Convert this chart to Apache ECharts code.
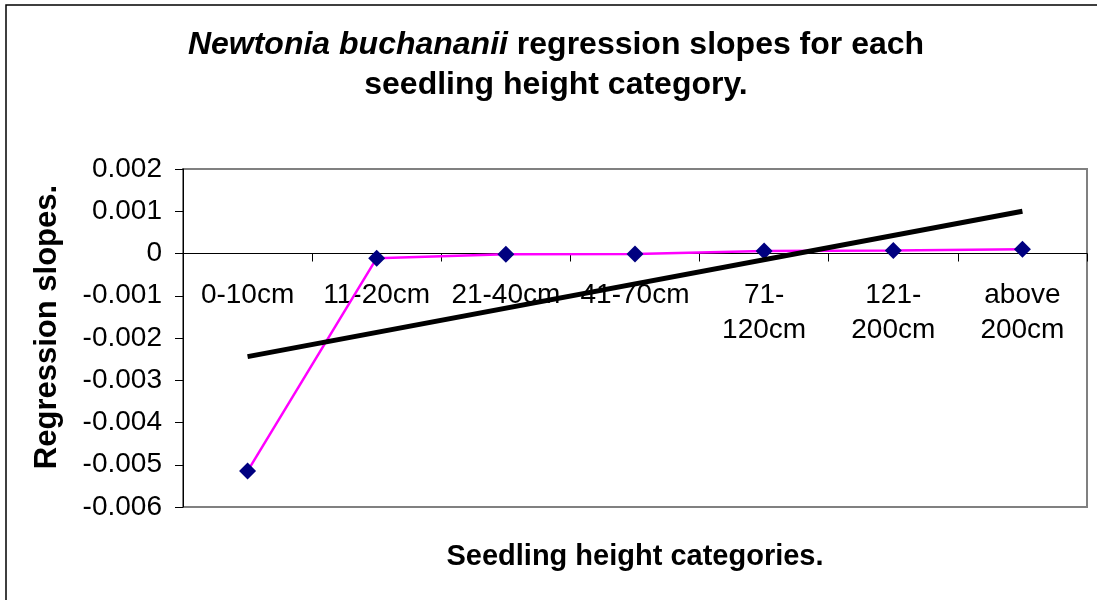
<!DOCTYPE html>
<html>
<head>
<meta charset="utf-8">
<script src="https://cdn.jsdelivr.net/npm/echarts@6/dist/echarts.min.js"></script>
<style>
  html, body { margin: 0; padding: 0; background: #fff; }
  #chart { width: 1097px; height: 600px; }
</style>
</head>
<body>
<div id="chart"></div>
<script>
// categories and values
const categories = ["0-10cm", "11-20cm", "21-40cm", "41-70cm", "71-\n120cm", "121-\n200cm", "above\n200cm"];
const slopes = [-0.00515, -0.00011, -0.00002, -0.00001, 0.00006, 0.00007, 0.0001];
// linear trend line, ends
const trendStart = -0.00244;
const trendEnd = 0.001;
const yTicks = { min: -0.006, max: 0.002, interval: 0.001 };

const FONT = "'Liberation Sans', Arial, sans-serif";

const trendData = categories.map((c, i) =>
  i === 0 ? trendStart : i === categories.length - 1 ? trendEnd : null
);

const gridTop = 169;
const gridBottom = 507;
// distance from the bottom of the plot up to the zero line
const zeroOffset = (gridBottom - gridTop) * (0 - yTicks.min) / (yTicks.max - yTicks.min);

const chart = echarts.init(document.getElementById("chart"), null, { renderer: "canvas" });

chart.setOption({
  animation: false,
  backgroundColor: "#fff",
  textStyle: { fontFamily: FONT, color: "#000" },
  grid: {
    left: 183,
    top: gridTop,
    right: 10,
    bottom: 600 - gridBottom,
    show: true,
    borderColor: "#808080",
    borderWidth: 2,
    backgroundColor: "#fff",
  },
  xAxis: {
    type: "category",
    data: categories,
    boundaryGap: true,
    offset: -zeroOffset,
    axisLine: { onZero: false, lineStyle: { color: "#000", width: 1 } },
    axisTick: { show: true, length: 8, lineStyle: { color: "#000" } },
    axisLabel: {
      interval: 0,
      color: "#000",
      fontSize: 28,
      fontFamily: FONT,
      lineHeight: 35,
      margin: 24,
    },
    splitLine: { show: false },
  },
  yAxis: {
    type: "value",
    min: yTicks.min,
    max: yTicks.max,
    interval: yTicks.interval,
    axisLine: { show: true, lineStyle: { color: "#000", width: 1 } },
    axisTick: { show: true, length: 8, lineStyle: { color: "#000" } },
    axisLabel: {
      color: "#000",
      fontSize: 28,
      fontFamily: FONT,
      margin: 21,
      formatter: (v) => String(+v.toFixed(3)),
    },
    splitLine: { show: false },
  },
  series: [
    {
      name: "slopes",
      type: "line",
      data: slopes,
      symbol: "diamond",
      symbolSize: 17,
      lineStyle: { color: "#FF00FF", width: 2.5 },
      itemStyle: { color: "#000080" },
      z: 2,
    },
    {
      name: "trend",
      type: "line",
      data: trendData,
      connectNulls: true,
      symbol: "none",
      lineStyle: { color: "#000", width: 5 },
      z: 3,
    },
  ],
  graphic: [
    {
      type: "polyline",
      shape: { points: [[6, 600], [6, 5], [1097, 5]] },
      style: { stroke: "#000", lineWidth: 1.5, fill: null },
    },
    {
      type: "text",
      x: 556,
      y: 25,
      style: {
        text: "{i|Newtonia buchananii} regression slopes for each\nseedling height category.",
        align: "center",
        verticalAlign: "top",
        font: "bold 32px " + FONT,
        lineHeight: 40,
        fill: "#000",
        rich: {
          i: { fontStyle: "italic", fontWeight: "bold", fontSize: 32, fontFamily: FONT, lineHeight: 40 },
        },
      },
    },
    {
      type: "text",
      x: 47,
      y: 327,
      rotation: Math.PI / 2,
      style: {
        text: "Regression slopes.",
        align: "center",
        verticalAlign: "middle",
        font: "bold 31px " + FONT,
        fill: "#000",
      },
    },
    {
      type: "text",
      x: 635,
      y: 557,
      style: {
        text: "Seedling height categories.",
        align: "center",
        verticalAlign: "middle",
        font: "bold 29px " + FONT,
        fill: "#000",
      },
    },
  ],
});
</script>
</body>
</html>
